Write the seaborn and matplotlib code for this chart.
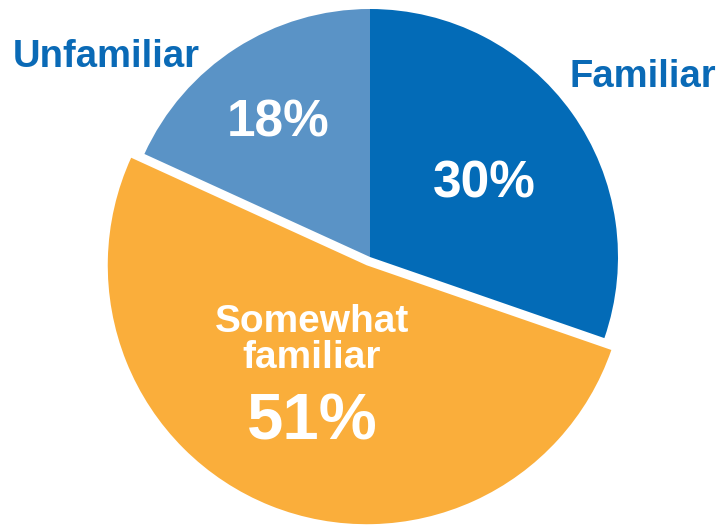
#import libraries

import matplotlib
matplotlib.use("Agg")
import matplotlib.pyplot as plt
import seaborn as sns

#data

labels = ['Familiar', 'Somewhat familiar', 'Unfamiliar']
values = [30, 51, 18]
pct_text = ['30%', '51%', '18%']
colors = ['#036bb7', '#faae3b', '#5a93c6']
label_blue = '#0a6ab6'

#style

sns.set_theme(style="white")
plt.rcParams['font.family'] = ['Liberation Sans', 'DejaVu Sans']

#plot

fig = plt.figure(figsize=(7.19, 5.25), dpi=100)
ax = fig.add_axes([0, 0, 1, 1])

# pixel -> data helper (1 unit = blue radius of 248 px, centre at 370,257)
def px(x, y):
    return (x - 370) / 248, (257 - y) / 248

wedges, _ = ax.pie(values, colors=colors, startangle=90, counterclock=False,
                   explode=[0, 0.036, 0], radius=1,
                   wedgeprops=dict(linewidth=0))
wedges[1].set_radius(1.044)   # somewhat familiar slice drawn a bit larger

ax.set_xlim(-370 / 248, (719 - 370) / 248)
ax.set_ylim(-(525 - 257) / 248, 257 / 248)
ax.set_aspect('equal')
ax.axis('off')

# outer labels
ax.text(*px(106, 67), 'Unfamiliar', ha='center', va='baseline',
        fontsize=27.5, fontweight='bold', color=label_blue)
ax.text(*px(643, 87), 'Familiar', ha='center', va='baseline',
        fontsize=27.5, fontweight='bold', color=label_blue)

# inside labels
ax.text(*px(278, 136), pct_text[2], ha='center', va='baseline',
        fontsize=37, fontweight='bold', color='white')
ax.text(*px(484, 197), pct_text[0], ha='center', va='baseline',
        fontsize=37, fontweight='bold', color='white')
ax.text(*px(312, 332), 'Somewhat', ha='center', va='baseline',
        fontsize=28, fontweight='bold', color='white')
ax.text(*px(312, 368), 'familiar', ha='center', va='baseline',
        fontsize=28, fontweight='bold', color='white')
ax.text(*px(312, 440), pct_text[1], ha='center', va='baseline',
        fontsize=47, fontweight='bold', color='white')

plt.savefig("out.png", dpi=100)
